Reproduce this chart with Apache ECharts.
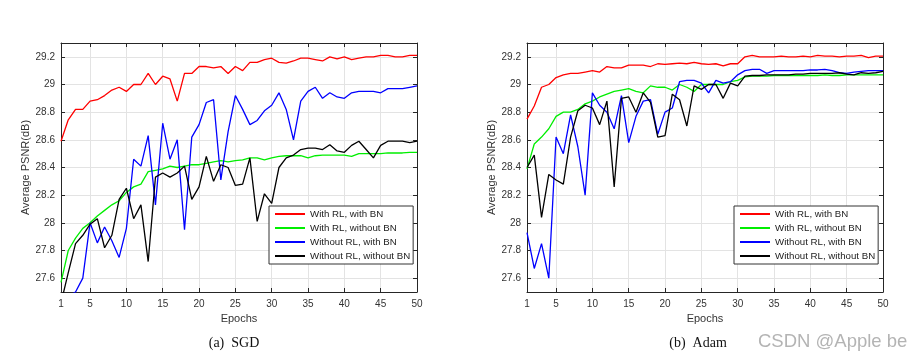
<!DOCTYPE html>
<html><head><meta charset="utf-8">
<script src="https://cdn.jsdelivr.net/npm/echarts@6/dist/echarts.min.js"></script>
<style>html,body{margin:0;padding:0;background:#fff}#c{width:910px;height:362px}</style>
</head><body><div id="c"></div>
<script>
const epochs = [1,2,3,4,5,6,7,8,9,10,11,12,13,14,15,16,17,18,19,20,21,22,23,24,25,26,27,28,29,30,31,32,33,34,35,36,37,38,39,40,41,42,43,44,45,46,47,48,49,50];
const xTicks = [1,5,10,15,20,25,30,35,40,45,50];
const yTicks = [27.6,27.8,28,28.2,28.4,28.6,28.8,29,29.2];
const seriesNames = ['With RL, with BN','With RL, without BN','Without RL, with BN','Without RL, without BN'];
const seriesColors = ['#ff0000','#00ee00','#0000ff','#000000'];
const captions = ['(a)  SGD','(b)  Adam'];

const sgdRLBN = [28.59,28.745,28.82,28.82,28.88,28.89,28.92,28.96,28.98,28.95,29.0,29.0,29.08,29.0,29.06,29.04,28.88,29.08,29.08,29.13,29.13,29.12,29.13,29.08,29.13,29.1,29.16,29.16,29.18,29.19,29.16,29.155,29.17,29.19,29.19,29.18,29.17,29.2,29.185,29.2,29.18,29.19,29.2,29.2,29.21,29.21,29.2,29.2,29.21,29.21];
const sgdRLnoBN = [27.57,27.8,27.89,27.96,28.0,28.05,28.09,28.13,28.16,28.22,28.26,28.28,28.37,28.38,28.39,28.41,28.40,28.41,28.42,28.42,28.43,28.44,28.45,28.44,28.45,28.455,28.47,28.47,28.455,28.47,28.48,28.485,28.485,28.485,28.47,28.485,28.49,28.49,28.49,28.49,28.48,28.5,28.5,28.5,28.5,28.505,28.505,28.505,28.51,28.51];
const sgdNoRLBN = [27.42,27.47,27.5,27.6,28.0,27.855,27.97,27.87,27.75,27.96,28.46,28.41,28.63,28.13,28.72,28.46,28.6,27.95,28.62,28.71,28.87,28.89,28.31,28.66,28.92,28.82,28.71,28.74,28.81,28.85,28.94,28.82,28.6,28.88,28.95,28.98,28.9,28.94,28.91,28.9,28.94,28.95,28.95,28.95,28.94,28.97,28.97,28.97,28.98,28.99];
const sgdNoRLnoBN = [27.42,27.64,27.85,27.91,27.99,28.03,27.82,27.91,28.17,28.25,28.03,28.13,27.72,28.33,28.36,28.33,28.36,28.41,28.17,28.26,28.48,28.3,28.42,28.4,28.27,28.28,28.47,28.01,28.21,28.14,28.4,28.47,28.49,28.53,28.54,28.54,28.53,28.565,28.52,28.51,28.56,28.59,28.53,28.47,28.56,28.59,28.59,28.59,28.58,28.59];

const adamRLBN = [28.75,28.845,28.98,29.0,29.05,29.07,29.08,29.08,29.09,29.1,29.09,29.13,29.12,29.12,29.14,29.14,29.14,29.13,29.15,29.145,29.15,29.155,29.15,29.16,29.15,29.145,29.15,29.135,29.15,29.15,29.2,29.21,29.2,29.2,29.2,29.205,29.2,29.2,29.205,29.2,29.21,29.205,29.205,29.2,29.205,29.205,29.21,29.195,29.205,29.205];
const adamRLnoBN = [28.39,28.57,28.62,28.68,28.77,28.8,28.8,28.82,28.86,28.88,28.91,28.93,28.95,28.96,28.97,28.95,28.94,28.99,28.98,28.98,28.96,29.0,28.98,28.95,29.0,29.0,29.0,29.0,29.02,29.03,29.055,29.06,29.06,29.06,29.065,29.065,29.065,29.065,29.065,29.065,29.065,29.07,29.065,29.065,29.07,29.07,29.07,29.07,29.07,29.07];
const adamNoRLBN = [27.93,27.67,27.85,27.6,28.62,28.5,28.78,28.55,28.2,28.94,28.85,28.8,28.68,28.92,28.58,28.77,28.88,28.89,28.64,28.8,28.83,29.02,29.03,29.03,29.01,28.94,29.03,29.01,29.02,29.07,29.1,29.11,29.11,29.08,29.1,29.1,29.1,29.1,29.1,29.105,29.105,29.11,29.1,29.085,29.08,29.09,29.095,29.1,29.1,29.1];
const adamNoRLnoBN = [28.4,28.49,28.04,28.35,28.31,28.28,28.62,28.81,28.85,28.83,28.71,28.88,28.26,28.9,28.91,28.8,28.94,28.87,28.62,28.63,28.93,28.89,28.7,28.99,28.965,29.0,29.0,28.9,29.01,28.99,29.06,29.065,29.065,29.07,29.07,29.07,29.07,29.075,29.075,29.08,29.08,29.08,29.08,29.085,29.075,29.07,29.085,29.08,29.085,29.095];

const panels = [
  {left: 61, data: [sgdRLBN, sgdRLnoBN, sgdNoRLBN, sgdNoRLnoBN], legendLeft: 269, capX: 234},
  {left: 527, data: [adamRLBN, adamRLnoBN, adamNoRLBN, adamNoRLnoBN], legendLeft: 734, capX: 698}
];

const FONT = 'Liberation Sans, Arial, Helvetica, sans-serif';
const axisCol = '#262626';
const gridCol = '#e3e3e3';

const grid = [], xAxis = [], yAxis = [], series = [], legend = [], graphic = [];
panels.forEach((p, gi) => {
  grid.push({left: p.left, top: 43, width: 356, height: 249, containLabel: false});
  const tickBase = {show: true, inside: true, length: 4, lineStyle: {color: axisCol, width: 1}, customValues: xTicks};
  xAxis.push({
    type: 'value', gridIndex: gi, position: 'bottom', min: 1, max: 50,
    axisLine: {show: true, onZero: false, lineStyle: {color: axisCol, width: 1}},
    axisTick: tickBase,
    axisLabel: {show: true, customValues: xTicks, color: '#333', fontSize: 10, fontFamily: FONT, margin: 7},
    splitLine: {show: true, lineStyle: {color: gridCol, width: 1}},
    name: 'Epochs', nameLocation: 'middle', nameGap: 20,
    nameTextStyle: {color: '#333', fontSize: 11, fontFamily: FONT}
  });
  xAxis.push({
    type: 'value', gridIndex: gi, position: 'top', min: 1, max: 50,
    axisLine: {show: true, onZero: false, lineStyle: {color: axisCol, width: 1}},
    axisTick: tickBase, axisLabel: {show: false}, splitLine: {show: false}
  });
  const yTick = {show: true, inside: true, length: 4, lineStyle: {color: axisCol, width: 1}, customValues: yTicks};
  yAxis.push({
    type: 'value', gridIndex: gi, position: 'left', min: 27.5, max: 29.3,
    axisLine: {show: true, onZero: false, lineStyle: {color: axisCol, width: 1}},
    axisTick: yTick,
    axisLabel: {show: true, customValues: yTicks, color: '#333', fontSize: 10, fontFamily: FONT, margin: 6},
    splitLine: {show: true, lineStyle: {color: gridCol, width: 1}},
    name: 'Average PSNR(dB)', nameLocation: 'middle', nameGap: 28, nameRotate: 90,
    nameTextStyle: {color: '#333', fontSize: 11, fontFamily: FONT}
  });
  yAxis.push({
    type: 'value', gridIndex: gi, position: 'right', min: 27.5, max: 29.3,
    axisLine: {show: true, onZero: false, lineStyle: {color: axisCol, width: 1}},
    axisTick: yTick, axisLabel: {show: false}, splitLine: {show: false}
  });
  p.data.forEach((vals, si) => {
    series.push({
      name: seriesNames[si], type: 'line', xAxisIndex: gi * 2, yAxisIndex: gi * 2,
      data: epochs.map((e, i) => [e, vals[i]]),
      symbol: 'none', showSymbol: false, clip: true, animation: false,
      lineStyle: {color: seriesColors[si], width: 1.3}, itemStyle: {color: seriesColors[si]},
      z: 2 + si
    });
  });
  legend.push({
    left: p.legendLeft, top: 206, orient: 'vertical', data: seriesNames,
    backgroundColor: '#fff', borderColor: '#333', borderWidth: 1, borderRadius: 0,
    padding: [3, 3, 3, 5], itemGap: 4, itemWidth: 30, itemHeight: 10,
    itemStyle: {opacity: 0, borderWidth: 0},
    textStyle: {color: '#222', fontSize: 9.7, fontFamily: FONT},
    selectedMode: false
  });
  graphic.push({
    type: 'text', x: p.capX, y: 343,
    style: {text: captions[gi], fill: '#111', align: 'center', verticalAlign: 'middle',
            font: '14px "Liberation Serif", "Times New Roman", serif'}
  });
});
graphic.push({
  type: 'text', left: 758, top: 332,
  style: {text: 'CSDN @Apple be', fill: '#b4b4b4', font: '18.5px "Liberation Sans", Arial, sans-serif'}
});

const chart = echarts.init(document.getElementById('c'), null, {renderer: 'canvas'});
chart.setOption({
  animation: false, backgroundColor: '#fff',
  grid, xAxis, yAxis, series, legend, graphic
});
</script></body></html>
